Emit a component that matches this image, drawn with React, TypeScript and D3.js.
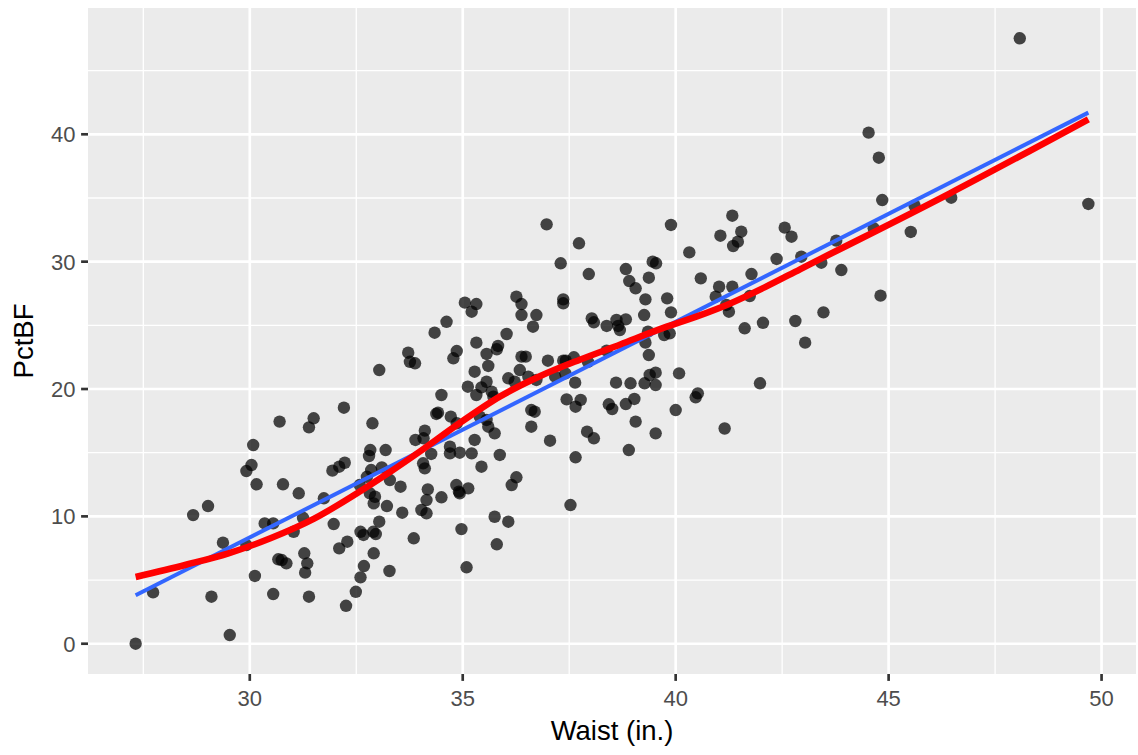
import React from 'react';
import * as d3 from 'd3';

// waist (in.) and percent body fat
const waist = [
  30.70, 30.08, 30.04, 29.92, 30.16, 30.78, 29.02, 28.67, 29.37, 29.92, 30.35, 30.55, 30.67, 30.75, 30.86, 30.12, 27.73, 29.10, 30.55, 29.53, 27.32,
  33.72, 33.76, 33.88, 33.04, 32.21, 31.50, 31.39, 32.88, 33.89, 32.83, 32.80, 33.19, 32.23, 32.10, 31.94, 32.85, 33.10, 32.75, 32.58, 33.29, 33.54,
  31.15, 31.74, 32.82, 32.94, 32.91, 33.22, 33.58, 31.25, 31.03, 31.97, 33.04, 32.60, 32.67, 32.90, 32.96, 32.29, 32.10, 33.85, 31.28, 31.35, 31.30,
  32.91, 32.68, 32.60, 33.28, 32.49, 32.26, 31.39,
  35.05, 35.32, 35.21, 36.26, 36.38, 36.38, 36.73, 36.65, 34.62, 34.34, 36.03, 35.32, 35.83, 35.80, 35.56, 34.86, 34.78, 36.38, 36.48, 35.60, 35.28,
  36.34, 36.07, 36.22, 36.54, 36.73, 35.56, 35.44, 35.32, 35.12, 35.68, 35.72, 34.50, 34.42, 34.38, 34.72, 36.61, 36.69, 35.40, 35.56, 35.60, 34.86,
  35.75, 34.11, 34.08, 36.61, 35.28, 34.70, 34.70, 34.93, 35.21, 34.26, 34.07, 34.11, 35.87, 35.44, 36.26, 36.15, 34.85, 34.91, 34.93, 35.13, 34.18,
  34.50, 34.15, 34.03, 34.15, 35.75, 36.07, 34.97, 35.80, 35.09,
  36.97, 37.73, 37.30, 37.96, 38.83, 38.91, 39.06, 39.37, 39.46, 39.54, 39.29, 37.36, 37.36, 39.26, 38.03, 38.08, 38.38, 38.61, 38.83, 38.65, 38.69,
  39.35, 39.29, 38.38, 39.37, 37.00, 37.36, 37.42, 37.61, 37.94, 39.39, 39.53, 39.53, 39.27, 37.17, 37.41, 37.64, 38.60, 38.94, 37.44, 37.65, 37.77,
  38.43, 38.51, 38.83, 39.03, 39.06, 37.92, 38.08, 37.05, 39.53, 38.90, 37.65, 37.53,
  41.33, 39.89, 41.05, 41.54, 41.46, 41.35, 42.56, 42.72, 40.32, 42.37, 40.59, 41.78, 41.02, 41.33, 40.94, 41.19, 41.25, 41.74, 39.80, 39.89, 39.73,
  39.86, 41.62, 42.05, 42.81, 40.08, 40.00, 40.52, 40.47, 41.98, 41.15,
  48.08, 44.53, 44.77, 44.85, 46.47, 49.69, 45.61, 44.65, 45.52, 43.77, 42.95, 43.42, 43.89, 44.81, 43.47, 43.04,
];

const pctBF = [
  17.44, 15.60, 14.03, 13.56, 12.52, 12.52, 10.81, 10.10, 7.93, 7.75, 9.45, 9.45, 6.63, 6.57, 6.31, 5.32, 4.03, 3.69, 3.90, 0.68, 0.0,
  22.85, 22.14, 22.02, 21.49, 18.53, 17.70, 16.99, 17.31, 16.00, 15.21, 14.74, 15.21, 14.21, 13.90, 13.59, 13.64, 13.85, 13.11, 12.46, 12.85, 12.33,
  11.81, 11.42, 11.81, 11.54, 11.02, 10.81, 10.29, 9.89, 8.79, 9.40, 9.58, 8.79, 8.54, 8.79, 8.61, 8.01, 7.49, 8.28, 7.10, 6.31, 5.58,
  7.10, 6.10, 5.21, 5.71, 4.08, 2.98, 3.69,
  26.78, 26.67, 26.07, 27.25, 26.67, 25.81, 25.81, 24.89, 25.28, 24.42, 24.32, 23.64, 23.38, 23.12, 22.75, 22.98, 22.41, 22.54, 22.54, 21.81, 21.36,
  21.49, 20.84, 20.57, 20.97, 20.71, 20.57, 20.13, 19.53, 20.18, 19.79, 19.40, 19.53, 18.14, 18.04, 17.83, 18.35, 18.22, 17.83, 17.57, 17.04, 17.31,
  16.52, 16.73, 16.13, 17.04, 16.00, 15.47, 14.95, 15.00, 14.95, 14.90, 14.17, 13.77, 14.82, 13.90, 13.07, 12.46, 12.46, 11.94, 11.81, 12.20, 12.12,
  11.50, 11.28, 10.50, 10.24, 9.97, 9.58, 9.00, 7.81, 6.00,
  32.93, 31.44, 29.87, 29.03, 29.42, 28.48, 27.91, 28.74, 30.00, 29.87, 27.04, 27.04, 26.73, 25.81, 25.55, 25.24, 24.95, 25.42, 25.47, 24.95, 24.63,
  24.50, 23.64, 23.01, 22.67, 22.22, 22.22, 22.22, 22.49, 22.14, 21.10, 21.28, 20.31, 20.45, 20.97, 21.23, 20.50, 20.50, 20.45, 19.19, 18.61, 19.14,
  18.80, 18.43, 18.82, 19.22, 17.44, 16.65, 16.13, 15.94, 16.52, 15.21, 14.64, 10.89,
  33.61, 32.88, 32.04, 32.35, 31.57, 31.23, 32.67, 31.96, 30.73, 30.21, 28.69, 29.03, 28.03, 28.03, 27.25, 26.60, 26.07, 27.30, 27.12, 26.02, 24.24,
  24.37, 24.77, 25.20, 25.34, 21.23, 18.35, 19.66, 19.35, 20.45, 16.90,
  47.54, 40.13, 38.16, 34.84, 35.02, 34.53, 34.39, 32.62, 32.33, 31.65, 30.39, 29.92, 29.34, 27.33, 26.02, 23.64,
];

// fitted lines
const lmWaist = [27.32, 49.69];
const lmPct = [3.8, 41.7];
const loessWaist = [27.32, 28.5, 29.5, 30.5, 31.5, 32.51, 33.3, 33.99, 34.93, 35.87, 36.81, 37.75, 38.7, 39.63, 40.5, 41.27, 42.1, 42.92, 46.44, 49.69];
const loessPct = [5.24, 6.2, 7.1, 8.3, 9.8, 11.8, 13.5, 15.08, 17.33, 19.4, 21.0, 22.3, 23.5, 24.7, 25.7, 26.7, 28.0, 29.4, 35.37, 41.18];

const xTicks = [30, 35, 40, 45, 50];
const xMinor = [27.5, 32.5, 37.5, 42.5, 47.5];
const yTicks = [0, 10, 20, 30, 40];
const yMinor = [5, 15, 25, 35, 45];

const W = 1138;
const H = 755;
const left = 88;
const right = 1136;
const top = 8;
const bottom = 674;
const font = '"Liberation Sans", Arial, Helvetica, sans-serif';

function expand(vals: number[]): [number, number] {
  const [lo, hi] = d3.extent(vals) as [number, number];
  const pad = (hi - lo) * 0.05;
  return [lo - pad, hi + pad];
}

export default function App() {
  const x = d3.scaleLinear().domain(expand(waist)).range([left, right]);
  const y = d3.scaleLinear().domain(expand(pctBF)).range([bottom, top]);

  const line = d3.line<[number, number]>()
    .x(d => x(d[0]))
    .y(d => y(d[1]));
  const smooth = d3.line<[number, number]>()
    .x(d => x(d[0]))
    .y(d => y(d[1]))
    .curve(d3.curveMonotoneX);

  const lmPts = lmWaist.map((w, i) => [w, lmPct[i]] as [number, number]);
  const loessPts = loessWaist.map((w, i) => [w, loessPct[i]] as [number, number]);

  return (
    <svg width={W} height={H} style={{ position: 'absolute', left: 0, top: 0, background: 'white' }}>
      <rect x={left} y={top} width={right - left} height={bottom - top} fill="#EBEBEB" />
      {/* minor grid */}
      {xMinor.map(v => (
        <line key={'xm' + v} x1={x(v)} x2={x(v)} y1={top} y2={bottom} stroke="white" strokeWidth={1.33} />
      ))}
      {yMinor.map(v => (
        <line key={'ym' + v} x1={left} x2={right} y1={y(v)} y2={y(v)} stroke="white" strokeWidth={1.33} />
      ))}
      {/* major grid */}
      {xTicks.map(v => (
        <line key={'xg' + v} x1={x(v)} x2={x(v)} y1={top} y2={bottom} stroke="white" strokeWidth={2.67} />
      ))}
      {yTicks.map(v => (
        <line key={'yg' + v} x1={left} x2={right} y1={y(v)} y2={y(v)} stroke="white" strokeWidth={2.67} />
      ))}

      {waist.map((w, i) => (
        <circle key={i} cx={x(w)} cy={y(pctBF[i])} r={6.2} fill="black" fillOpacity={0.72} />
      ))}

      <path d={line(lmPts) || ''} fill="none" stroke="#3366FF" strokeWidth={4} />
      <path d={smooth(loessPts) || ''} fill="none" stroke="#FF0000" strokeWidth={6.5} />

      {/* axes */}
      {xTicks.map(v => (
        <g key={'xt' + v}>
          <line x1={x(v)} x2={x(v)} y1={bottom} y2={bottom + 6.9} stroke="#333333" strokeWidth={2.67} />
          <text x={x(v)} y={706} textAnchor="middle" fontFamily={font} fontSize={22} fill="#4D4D4D">{v}</text>
        </g>
      ))}
      {yTicks.map(v => (
        <g key={'yt' + v}>
          <line x1={left - 6.9} x2={left} y1={y(v)} y2={y(v)} stroke="#333333" strokeWidth={2.67} />
          <text x={75.5} y={y(v)} dy="0.36em" textAnchor="end" fontFamily={font} fontSize={22} fill="#4D4D4D">{v}</text>
        </g>
      ))}
      <text x={(left + right) / 2} y={740} textAnchor="middle" fontFamily={font} fontSize={27.5} fill="black">Waist (in.)</text>
      <text transform={`translate(33, ${(top + bottom) / 2}) rotate(-90)`} textAnchor="middle" fontFamily={font} fontSize={27.5} fill="black">PctBF</text>
    </svg>
  );
}
